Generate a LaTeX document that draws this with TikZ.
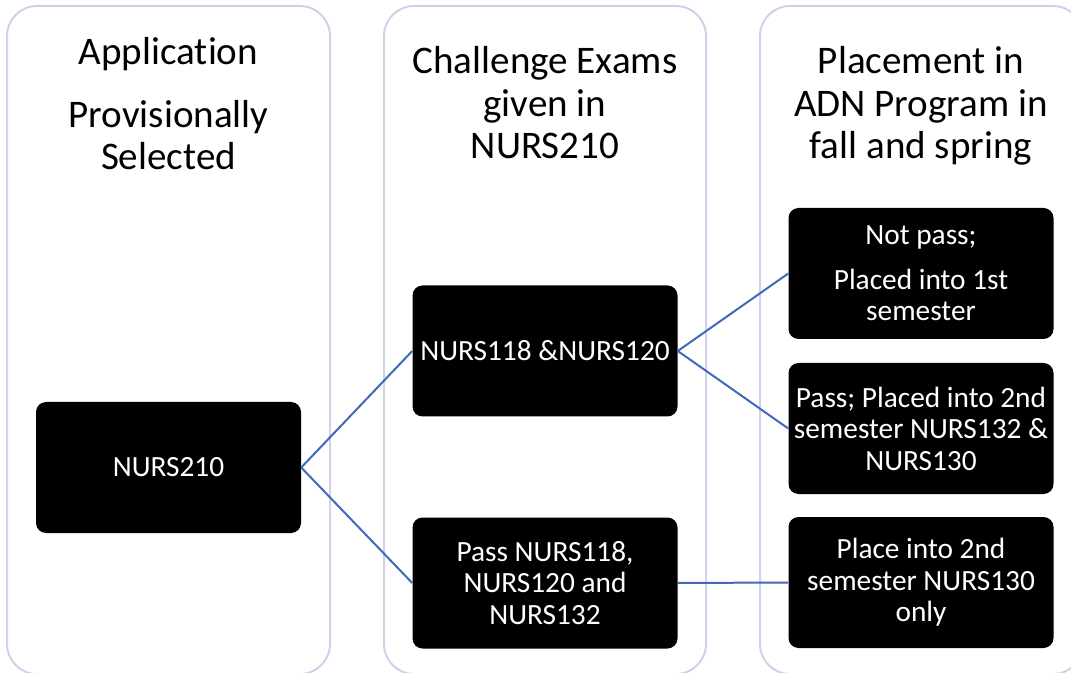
\documentclass[tikz,border=0pt]{standalone}
\usepackage{fontspec}
\setmainfont{Carlito}[Ligatures={NoCommon,NoContextual},RawFeature={-liga;-calt}]
\definecolor{colline}{HTML}{CDD4EA}
\definecolor{linkblue}{HTML}{4169B8}
\begin{document}
\begin{tikzpicture}[x=0.75pt,y=-0.75pt,
  colbox/.style={draw=colline, line width=1.5pt, rounded corners=22.5pt},
  blackbox/.style={fill=black, draw=none, rounded corners=7.5pt, text=white, align=center,
    minimum width=198.75pt, minimum height=98.25pt, inner sep=0pt,
    font=\fontsize{22}{23.6}\selectfont},
  header/.style={align=center, font=\fontsize{29.3}{32}\selectfont, inner sep=0pt, anchor=north},
  link/.style={draw=linkblue, line width=1.5pt}]
\useasboundingbox (0,0) rectangle (1071,673);
% columns
\draw[colbox] (7,6) rectangle (330,674);
\draw[colbox] (384,6) rectangle (706,674);
\draw[colbox] (760,6) rectangle (1083,674);
% headers
\node[header] (h1) at (168.5,37) {Application\\[15pt]Provisionally\\Selected};
\node[header] (h2) at (545,46) {Challenge Exams\\given in\\NURS210};
\node[header] (h3) at (921,46) {Placement in\\ADN Program in\\fall and spring};
% boxes
\node[blackbox] (n210) at (168.5,467.5) {NURS210};
\node[blackbox] (n118) at (545,351) {NURS118 \&NURS120};
\node[blackbox] (npass) at (545,583) {Pass NURS118,\\NURS120 and\\NURS132};
\node[blackbox] (nnot) at (921,273.5) {Not pass;\\[10pt]Placed into 1st\\semester};
\node[blackbox] (npass2) at (921,428.5) {Pass; Placed into 2nd\\semester NURS132 \&\\NURS130};
\node[blackbox] (nplace) at (921,582.5) {Place into 2nd\\semester NURS130\\only};
% connectors
\draw[link] (n210.east) -- (n118.west);
\draw[link] (n210.east) -- (npass.west);
\draw[link] (n118.east) -- (nnot.west);
\draw[link] (n118.east) -- (npass2.west);
\draw[link] (npass.east) -- (nplace.west);
\end{tikzpicture}
\end{document}
